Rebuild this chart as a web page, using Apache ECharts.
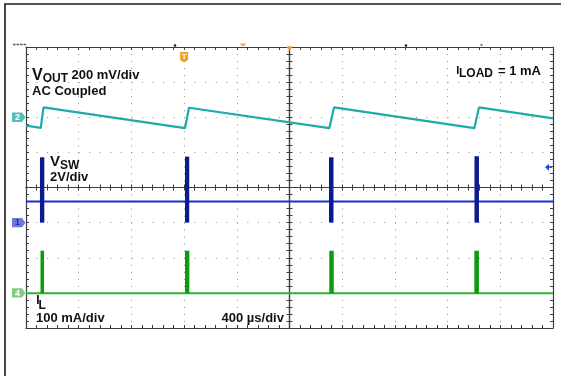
<!DOCTYPE html>
<html>
<head>
<meta charset="utf-8">
<script src="https://cdn.jsdelivr.net/npm/echarts/dist/echarts.min.js"></script>
<style>
html,body{margin:0;padding:0;background:#fff;}
#c{width:561px;height:376px;}
</style>
</head>
<body>
<div id="c"></div>
<script>
// ---- data (time in microseconds, amplitude in screen divisions) ----
const timeUs   = [0, 112, 133, 1207, 1237, 2302, 2338, 3403, 3438, 4000];
const voutDiv  = [5.76, 5.70, 6.28, 5.69, 6.27, 5.69, 6.28, 5.69, 6.28, 5.97];

const baseTime = [0, 4000];
const vswBaseDiv = [3.60, 3.60];
const vswPulseStart = [106, 1207, 2300, 3404];
const vswPulseEnd   = [139, 1239, 2334, 3438];
const vswPulseLow   = [3.00, 3.00, 3.00, 3.00];
const vswPulseHigh  = [4.86, 4.88, 4.86, 4.89];

const ilBaseDiv = [0.99, 0.99];
const ilSpikeStart = [110, 1207, 2302, 3403];
const ilSpikeEnd   = [137, 1240, 2336, 3438];
const ilSpikeLow   = [0.99, 0.99, 0.99, 0.99];
const ilSpikeHigh  = [2.20, 2.20, 2.20, 2.20];

const chLevels = [6, 3, 1];
const chNames  = ['2', '1', '4'];
const triggerTime = 1200;
const triggerLevel = 4.58;

const FONT = '"Liberation Sans", Arial, sans-serif';
const C_CYAN = '#1fa9a9', C_BLUE = '#1b2fd0', C_NAVY = '#0b1a8e', C_GREEN = '#2cb32c', C_DGREEN = '#0f9a0f';
const AX = '#3c3c3c';

const chart = echarts.init(document.getElementById('c'), null, {renderer: 'canvas'});

function xAx(opts) {
  return Object.assign({
    type: 'value', min: 0, max: 4000, interval: 400,
    axisLabel: {show: false},
    axisLine: {show: true, onZero: false, lineStyle: {color: AX, width: 1.2}},
    axisTick: {show: true, inside: true, length: 3, lineStyle: {color: AX, width: 1}},
    minorTick: {show: true, splitNumber: 5, length: 3, lineStyle: {color: AX, width: 1}},
    splitLine: {show: false}
  }, opts);
}
function yAx(opts) {
  return Object.assign({
    type: 'value', min: 0, max: 8, interval: 1,
    axisLabel: {show: false},
    axisLine: {show: true, onZero: false, lineStyle: {color: AX, width: 1.2}},
    axisTick: {show: true, inside: true, length: 3, lineStyle: {color: AX, width: 1}},
    minorTick: {show: true, splitNumber: 5, length: 3, lineStyle: {color: AX, width: 1}},
    splitLine: {show: false}
  }, opts);
}

function rectRenderer(color) {
  return function (params, api) {
    const a = api.coord([api.value(0), api.value(2)]);
    const b = api.coord([api.value(1), api.value(3)]);
    return {
      type: 'rect',
      shape: {x: a[0], y: b[1], width: Math.max(b[0] - a[0], 1), height: a[1] - b[1]},
      style: {fill: color}
    };
  };
}

const option = {
  animation: false,
  backgroundColor: '#fff',
  grid: {left: 26, right: 8, top: 47, bottom: 48, containLabel: false},
  xAxis: [
    xAx({position: 'bottom', splitLine: {show: true, lineStyle: {color: '#8c8c8c', width: 1, type: [1, 6.025]}}}),
    xAx({position: 'top'}),
    xAx({position: 'bottom', offset: -140.5, axisTick: {show: true, inside: true, length: 3, lineStyle: {color: AX}}}),
    xAx({position: 'bottom', offset: -140.5, axisTick: {show: true, inside: false, length: 3, lineStyle: {color: AX}}})
  ],
  yAxis: [
    yAx({position: 'left', splitLine: {show: true, lineStyle: {color: '#8c8c8c', width: 1, type: [1, 9.54]}}}),
    yAx({position: 'right'}),
    yAx({position: 'left', offset: -263.5, axisTick: {show: true, inside: true, length: 3, lineStyle: {color: AX}}}),
    yAx({position: 'left', offset: -263.5, axisTick: {show: true, inside: false, length: 3, lineStyle: {color: AX}}})
  ],
  series: [
    {
      type: 'line', xAxisIndex: 0, yAxisIndex: 0, symbol: 'none', z: 5,
      lineStyle: {color: C_CYAN, width: 2.2},
      data: timeUs.map((t, i) => [t, voutDiv[i]])
    },
    {
      type: 'line', xAxisIndex: 0, yAxisIndex: 0, symbol: 'none', z: 5,
      lineStyle: {color: C_BLUE, width: 2},
      data: baseTime.map((t, i) => [t, vswBaseDiv[i]])
    },
    {
      type: 'custom', xAxisIndex: 0, yAxisIndex: 0, z: 6,
      renderItem: rectRenderer(C_NAVY),
      data: vswPulseStart.map((s, i) => [s, vswPulseEnd[i], vswPulseLow[i], vswPulseHigh[i]])
    },
    {
      type: 'line', xAxisIndex: 0, yAxisIndex: 0, symbol: 'none', z: 5,
      lineStyle: {color: C_GREEN, width: 2},
      data: baseTime.map((t, i) => [t, ilBaseDiv[i]])
    },
    {
      type: 'custom', xAxisIndex: 0, yAxisIndex: 0, z: 6,
      renderItem: rectRenderer(C_DGREEN),
      data: ilSpikeStart.map((s, i) => [s, ilSpikeEnd[i], ilSpikeLow[i], ilSpikeHigh[i]])
    }
  ]
};
chart.setOption(option);

function px(t, v) { return chart.convertToPixel({gridIndex: 0}, [t, v]); }
function txt(text, x, y, size, extra) {
  return Object.assign({
    type: 'text', x: x, y: y, z: 20,
    style: {text: text, font: 'bold ' + size + 'px ' + FONT, fill: '#111', align: 'left', verticalAlign: 'middle'}
  }, extra || {});
}

const g = [];
// outer frame
g.push({type: 'rect', z: 1, shape: {x: 5, y: 4, width: 600, height: 420},
  style: {fill: 'none', stroke: '#1a1a1a', lineWidth: 1.6}});
// top status fragments
g.push({type: 'line', z: 3, shape: {x1: 13, y1: 44.5, x2: 26, y2: 44.5},
  style: {stroke: '#555', lineWidth: 1.5, lineDash: [2.5, 1]}});
g.push({type: 'circle', z: 3, shape: {cx: 175, cy: 45.5, r: 1.3}, style: {fill: '#222'}});
g.push({type: 'circle', z: 3, shape: {cx: 406, cy: 45.5, r: 1.3}, style: {fill: '#222'}});
g.push({type: 'rect', z: 3, shape: {x: 480.5, y: 44, width: 2, height: 2}, style: {fill: '#777'}});
g.push({type: 'polygon', z: 3, shape: {points: [[240, 43.5], [246, 43.5], [244.5, 46], [241.5, 46]]}, style: {fill: '#f6b040'}});
const trigTop = px(2000, 8);
g.push({type: 'polygon', z: 8, shape: {points: [[trigTop[0] - 3.5, 46.5], [trigTop[0] + 3.5, 46.5], [trigTop[0], 50.5]]}, style: {fill: '#f29a16'}});
// trigger T marker
const tp = px(triggerTime, 8);
const tx = tp[0];
g.push({type: 'polygon', z: 10, shape: {points: [[tx - 4, 52], [tx + 4, 52], [tx + 4, 60], [tx, 62.5], [tx - 4, 60]]}, style: {fill: '#f4a020'}});
g.push({type: 'text', x: tx, y: 57, z: 11, style: {text: 'T', font: 'bold 8px ' + FONT, fill: '#fff', align: 'center', verticalAlign: 'middle'}});
// channel tags
const tagColors = [['#56bdb8', '#ffffff'], ['#7078dc', '#2a2fa0'], ['#7fcf7f', '#ffffff']];
chLevels.forEach((lv, i) => {
  const c = px(0, lv)[1];
  g.push({type: 'polygon', z: 10, shape: {points: [[12, c - 4.7], [22, c - 4.7], [25.5, c], [22, c + 4.7], [12, c + 4.7]]},
    style: {fill: tagColors[i][0]}});
  g.push({type: 'text', x: 17.5, y: c + 0.3, z: 11, style: {text: chNames[i], font: 'bold 9px ' + FONT, fill: tagColors[i][1], align: 'center', verticalAlign: 'middle'}});
});
// trigger level arrow
const tl = px(4000, triggerLevel);
g.push({type: 'polygon', z: 10, shape: {points: [[tl[0] - 8, tl[1]], [tl[0] - 4, tl[1] - 3.5], [tl[0] - 4, tl[1] + 3.5]]}, style: {fill: '#2b3fe0'}});
g.push({type: 'line', z: 10, shape: {x1: tl[0] - 5, y1: tl[1], x2: tl[0] - 1, y2: tl[1]}, style: {stroke: '#2b3fe0', lineWidth: 1.5}});

// annotations
g.push(txt('V', 32, 75.2, 16));
g.push(txt('OUT', 42.7, 79, 12));
g.push(txt('200 mV/div', 71.5, 75, 13));
g.push(txt('AC Coupled', 32, 91, 13));

g.push(txt('I', 456.3, 70.5, 11));
g.push(txt('LOAD', 459, 74, 12));
g.push(txt('= 1 mA', 498, 71, 13));

g.push(txt('V', 50, 162.3, 15));
g.push(txt('SW', 60, 166, 12));
g.push(txt('2V/div', 50, 177.3, 13));

g.push(txt('I', 36.3, 301, 12));
g.push(txt('L', 38.6, 306, 12));
g.push(txt('100 mA/div', 36, 318.5, 13));
g.push(txt('400 µs/div', 221.5, 318.5, 13));

chart.setOption({graphic: g});
</script>
</body>
</html>
